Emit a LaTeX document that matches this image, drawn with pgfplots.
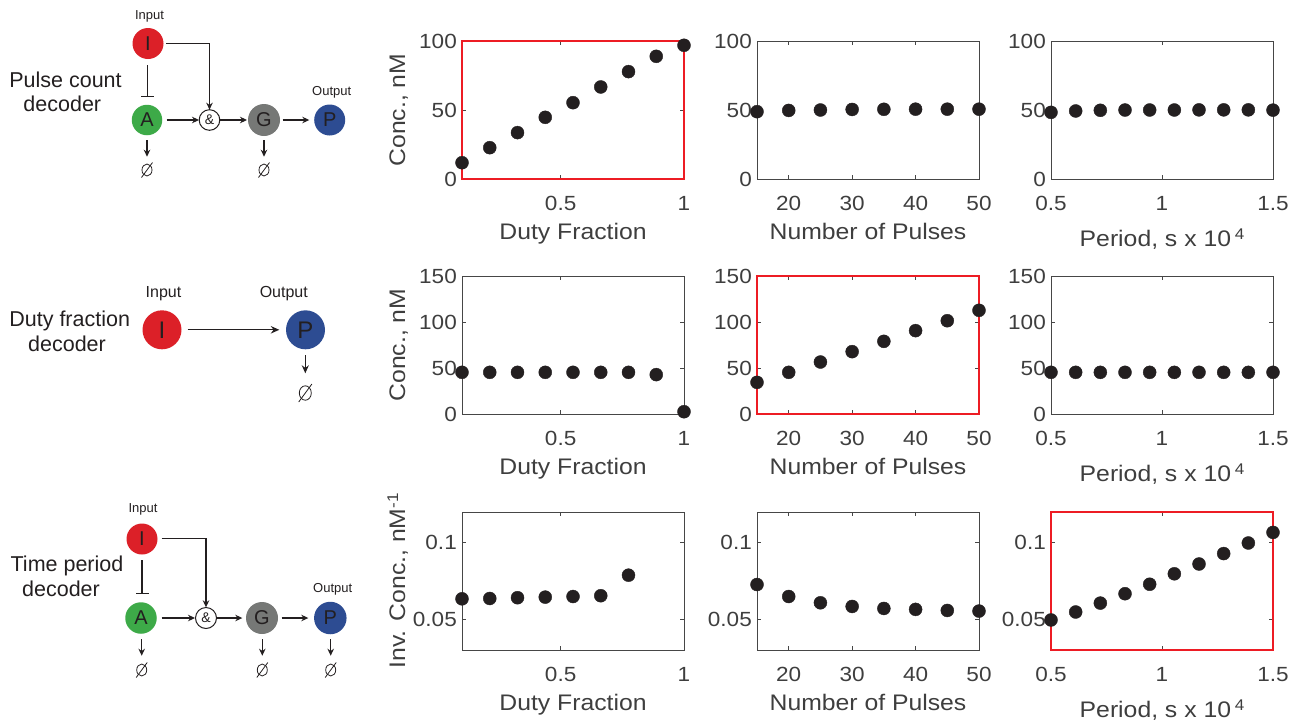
\documentclass[border=0pt]{standalone}
\usepackage{fontspec}
\setmainfont{Liberation Sans}
\newfontfamily\plotfont{Liberation Sans}[FakeStretch=1.1]
\usepackage{pgfplots}
\pgfplotsset{compat=1.18}
\usetikzlibrary{arrows.meta}
\definecolor{txt}{RGB}{62,62,62}
\definecolor{axc}{RGB}{70,70,70}
\definecolor{redbox}{RGB}{237,28,36}
\definecolor{mk}{RGB}{35,31,32}
\definecolor{cred}{RGB}{220,32,40}
\definecolor{cgreen}{RGB}{61,170,72}
\definecolor{cgray}{RGB}{118,120,118}
\definecolor{cblue}{RGB}{45,76,146}
\definecolor{ink}{RGB}{35,31,32}

\pgfplotsset{
  dec/.style={
    scale only axis, width=222pt, height=138pt, clip=false,
    axis line style={axc, line width=0.8pt},
    every tick/.style={axc, line width=0.8pt},
    major tick length=4pt,
    tick align=inside,
    tick label style={font=\plotfont\fontsize{20.5}{24}\selectfont, text=txt},
    label style={font=\plotfont\fontsize{22.5}{27}\selectfont, text=txt},
    /pgf/number format/assume math mode=true,
    yticklabel style={anchor=east, inner sep=0pt, xshift=-5pt},
    xticklabel style={anchor=base, inner sep=0pt, yshift=-31pt},
    xlabel style={at={(axis description cs:0.5,-0.435)}, anchor=base, inner sep=0pt},
    ylabel style={at={(axis description cs:-0.256,0.5)}, anchor=base, inner sep=0pt},
  },
  hl/.style={axis line style={redbox, line width=2.8pt, line cap=rect}},
  duty/.style={xmin=0.1, xmax=1, xtick={0.5,1}, xticklabels={0.5,1}, xlabel={Duty Fraction}},
  pulses/.style={xmin=15, xmax=50, xtick={20,30,40,50}, xticklabels={20,30,40,50}, xlabel={Number of Pulses}},
  period/.style={xmin=0.5, xmax=1.5, xtick={0.5,1,1.5}, xticklabels={0.5,1,1.5},
     xlabel={Period, s x 10\,\raisebox{7pt}{\fontsize{15.5}{16}\selectfont 4}},
     xlabel style={at={(axis description cs:0.5,-0.4855)}}},
  yA/.style={ymin=0, ymax=100, ytick={0,50,100}, yticklabels={0,50,100}},
  yB/.style={ymin=0, ymax=150, ytick={0,50,100,150}, yticklabels={0,50,100,150}},
  yC/.style={ymin=0.03, ymax=0.12, ytick={0.05,0.1}, yticklabels={0.05,0.1}},
  pts/.style={only marks, mark=*, mark size=6.5pt, color=mk},
}
\tikzset{
  ar/.style={-{Stealth[length=7pt,width=6.5pt]}},
  nullset/.pic={\draw[line width=0.8pt] (0,0) circle[x radius=5pt, y radius=6pt];
                \draw[line width=0.8pt] (-5.5pt,-7.5pt) -- (5.5pt,7.5pt);},
  nd/.style={circle, inner sep=0pt, text=ink},
}

\begin{document}
\begin{tikzpicture}
\path[use as bounding box] (0,0) rectangle (1295pt,-721pt);

% ---------------- diagrams ----------------
\begin{scope}[x=1pt,y=-1pt, line width=1.1pt, draw=ink, ink]
% D1 pulse count
\node[font=\fontsize{13}{13}\selectfont, anchor=base] at (149.5,19) {Input};
\node[font=\fontsize{13}{13}\selectfont, anchor=base] at (331.7,95.7) {Output};
\node[font=\fontsize{21.5}{24}\selectfont, anchor=base] at (65.5,87) {Pulse count};
\node[font=\fontsize{21.5}{24}\selectfont, anchor=base] at (62.3,111) {decoder};
\node[nd, fill=cred, minimum size=31pt, font=\fontsize{20}{20}\selectfont] at (148,43.5) {I};
\node[nd, fill=cgreen, minimum size=30.5pt, font=\fontsize{20}{20}\selectfont] at (147,120) {A};
\node[nd, draw=ink, line width=1pt, fill=white, minimum size=20.6pt, font=\fontsize{14}{14}\selectfont] at (209.5,120) {\&};
\node[nd, fill=cgray, minimum size=32pt, font=\fontsize{20}{20}\selectfont] at (264,120) {G};
\node[nd, fill=cblue, minimum size=31pt, font=\fontsize{20}{20}\selectfont] at (329.7,120) {P};
\draw[-{Bar[width=12.5pt]}] (147.5,65) -- (147.5,97);
\draw[ar] (166.7,120) -- (199,120);
\draw[ar] (166,43.5) -| (209.5,109.7);
\draw[ar] (220,120) -- (247,120);
\draw[ar] (282.7,120) -- (309.3,120);
\draw[ar] (147,140) -- (147,156.7);
\pic at (147,170) {nullset};
\draw[ar] (264,140) -- (264,156.7);
\pic at (264,170) {nullset};

% D2 duty fraction
\node[font=\fontsize{16}{16}\selectfont, anchor=base] at (163.5,297.3) {Input};
\node[font=\fontsize{16}{16}\selectfont, anchor=base] at (283.8,297) {Output};
\node[font=\fontsize{21.5}{24}\selectfont, anchor=base] at (69.7,326.7) {Duty fraction};
\node[font=\fontsize{21.5}{24}\selectfont, anchor=base] at (67,351) {decoder};
\node[nd, fill=cred, minimum size=39pt, font=\fontsize{24}{24}\selectfont] at (162,329.8) {I};
\node[nd, fill=cblue, minimum size=39pt, font=\fontsize{24}{24}\selectfont] at (305.5,329.8) {P};
\draw[-{Stealth[length=8.5pt,width=7.5pt]}] (187.7,329.8) -- (279.3,329.8);
\draw[-{Stealth[length=8pt,width=7pt]}] (305.3,355) -- (305.3,373.3);
\pic[scale=1.2] at (305.3,393) {nullset};

% D3 time period
\node[font=\fontsize{13}{13}\selectfont, anchor=base] at (143,512.7) {Input};
\node[font=\fontsize{13}{13}\selectfont, anchor=base] at (332.7,592.7) {Output};
\node[font=\fontsize{21.5}{24}\selectfont, anchor=base] at (67,571.7) {Time period};
\node[font=\fontsize{21.5}{24}\selectfont, anchor=base] at (61,596.7) {decoder};
\node[nd, fill=cred, minimum size=31pt, font=\fontsize{20}{20}\selectfont] at (142,539) {I};
\node[nd, fill=cgreen, minimum size=31.5pt, font=\fontsize{20}{20}\selectfont] at (141,618) {A};
\node[nd, draw=ink, line width=1pt, fill=white, minimum size=21pt, font=\fontsize{14}{14}\selectfont] at (206,618) {\&};
\node[nd, fill=cgray, minimum size=32pt, font=\fontsize{20}{20}\selectfont] at (262,618) {G};
\node[nd, fill=cblue, minimum size=32.5pt, font=\fontsize{20}{20}\selectfont] at (330.3,618) {P};
\draw[-{Bar[width=13pt]}] (142,560) -- (142,594);
\draw[ar] (161.7,618) -- (195,618);
\draw[ar] (161.7,538.5) -| (206,607.3);
\draw[ar] (217.3,618) -- (242.3,618);
\draw[ar] (281.7,618) -- (308.3,618);
\draw[ar] (141.7,639.3) -- (141.7,655.7);
\pic at (141.7,670) {nullset};
\draw[ar] (262.3,639.3) -- (262.3,655.7);
\pic at (262.3,670) {nullset};
\draw[ar] (330.7,639.3) -- (330.7,655.7);
\pic at (330.7,670) {nullset};
\end{scope}

% ---------------- row 1 ----------------
\begin{axis}[dec, hl, duty, yA, ylabel={Conc., nM}, at={(462pt,-179pt)}, anchor=south west]
\addplot[pts] coordinates {(0.1,11.8) (0.2125,22.7) (0.325,33.6) (0.4375,44.7) (0.55,55.3) (0.6625,66.7) (0.775,77.8) (0.8875,88.9) (1.0,96.9)};
\end{axis}
\begin{axis}[dec, pulses, yA, at={(757pt,-179pt)}, anchor=south west]
\addplot[pts] coordinates {(15,48.8) (20,49.7) (25,50.0) (30,50.4) (35,50.5) (40,50.6) (45,50.6) (50,50.6)};
\end{axis}
\begin{axis}[dec, period, yA, at={(1051pt,-179pt)}, anchor=south west]
\addplot[pts] coordinates {(0.5,48.3) (0.6111,49.3) (0.7222,49.8) (0.8333,50.0) (0.9444,50.0) (1.0556,50.0) (1.1667,50.1) (1.2778,50.1) (1.3889,50.1) (1.5,49.9)};
\end{axis}

% ---------------- row 2 ----------------
\begin{axis}[dec, duty, yB, ylabel={Conc., nM}, at={(462pt,-414pt)}, anchor=south west]
\addplot[pts] coordinates {(0.1,45.3) (0.2125,45.3) (0.325,45.3) (0.4375,45.3) (0.55,45.3) (0.6625,45.3) (0.775,45.3) (0.8875,42.8) (1.0,2.5)};
\end{axis}
\begin{axis}[dec, hl, pulses, yB, at={(757pt,-414pt)}, anchor=south west]
\addplot[pts] coordinates {(15,34.4) (20,45.3) (25,56.5) (30,67.8) (35,79.0) (40,90.6) (45,101.4) (50,112.7)};
\end{axis}
\begin{axis}[dec, period, yB, at={(1051pt,-414pt)}, anchor=south west]
\addplot[pts] coordinates {(0.5,45.3) (0.6111,45.3) (0.7222,45.3) (0.8333,45.3) (0.9444,45.3) (1.0556,45.3) (1.1667,45.3) (1.2778,45.3) (1.3889,45.3) (1.5,45.3)};
\end{axis}

% ---------------- row 3 ----------------
\begin{axis}[dec, duty, yC, ylabel={Inv. Conc., nM\raisebox{7pt}{\fontsize{15.5}{16}\selectfont -1}}, at={(462pt,-650pt)}, anchor=south west]
\addplot[pts] coordinates {(0.1,0.0634) (0.2125,0.0636) (0.325,0.0641) (0.4375,0.0645) (0.55,0.0649) (0.6625,0.0654) (0.775,0.0788)};
\end{axis}
\begin{axis}[dec, pulses, yC, at={(757pt,-650pt)}, anchor=south west]
\addplot[pts] coordinates {(15,0.0727) (20,0.0649) (25,0.0608) (30,0.0584) (35,0.0571) (40,0.0565) (45,0.0558) (50,0.0554)};
\end{axis}
\begin{axis}[dec, hl, period, yC, at={(1051pt,-650pt)}, anchor=south west]
\addplot[pts] coordinates {(0.5,0.0496) (0.6111,0.0548) (0.7222,0.0606) (0.8333,0.0667) (0.9444,0.0729) (1.0556,0.0797) (1.1667,0.0861) (1.2778,0.0929) (1.3889,0.0998) (1.5,0.1067)};
\end{axis}
\end{tikzpicture}
\end{document}
